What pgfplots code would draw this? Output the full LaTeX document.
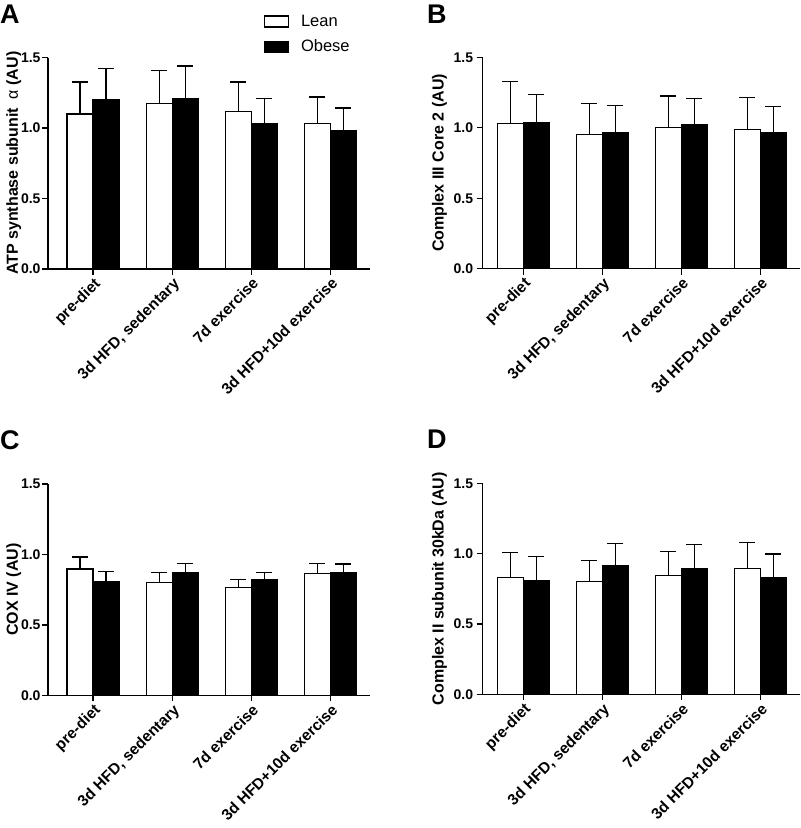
\documentclass[border=0pt]{standalone}
\usepackage{pgfplots}
\usepackage{pgfplotstable}
\pgfplotsset{compat=1.18}
\usepackage{fontspec}
\setmainfont{Liberation Sans}

\pgfplotstableread{
x L Le O Oe
0 1.100 0.226 1.203 0.220
1 1.175 0.231 1.206 0.234
2 1.118 0.208 1.033 0.175
3 1.033 0.187 0.980 0.162
}\dataA
\pgfplotstableread{
x L Le O Oe
0 1.031 0.295 1.038 0.199
1 0.953 0.220 0.962 0.194
2 1.003 0.222 1.019 0.187
3 0.989 0.224 0.962 0.187
}\dataB
\pgfplotstableread{
x L Le O Oe
0 0.897 0.085 0.804 0.074
1 0.800 0.071 0.868 0.066
2 0.767 0.054 0.819 0.052
3 0.864 0.073 0.868 0.064
}\dataC
\pgfplotstableread{
x L Le O Oe
0 0.832 0.175 0.810 0.169
1 0.801 0.149 0.912 0.161
2 0.846 0.168 0.893 0.173
3 0.893 0.188 0.832 0.166
}\dataD

\pgfplotsset{
  panel/.style={
    scale only axis, ybar=0pt, bar width=26pt,
    ymin=0, ymax=1.5, ytick={0,0.5,1,1.5},
    xmax=3.5,
    xtick={0,1,2,3},
    xticklabels={pre-diet,{3d HFD, sedentary},7d exercise,3d HFD+10d exercise},
    axis x line*=bottom, axis y line*=left,
    axis line style={line width=1.3pt, -},
    tick align=outside, major tick length=6pt,
    every tick/.style={line width=1.3pt, black},
    xticklabel style={rotate=45, anchor=north east, inner sep=1pt,
      font=\bfseries\fontsize{15.5}{15.5}\selectfont},
    yticklabel style={font=\bfseries\fontsize{14}{14}\selectfont,
      /pgf/number format/fixed, /pgf/number format/fixed zerofill,
      /pgf/number format/precision=1, /pgf/number format/assume math mode=true},
    ylabel style={font=\bfseries\fontsize{16}{16}\selectfont},
    error bars/y dir=plus, error bars/y explicit,
    error bars/error bar style={line width=1.3pt, black},
    error bars/error mark options={rotate=90, line width=1.3pt, mark size=8pt, black},
  },
  lean/.style={fill=white, draw=black, line width=1.3pt,
    legend image code/.code={\draw[fill=white, draw=black, line width=1.3pt] (0pt,-5.5pt) rectangle (24pt,5.5pt); \path (34pt,0pt);}},
  obese/.style={fill=black, draw=black, line width=1.3pt,
    legend image code/.code={\draw[fill=black, draw=black, line width=1.3pt] (0pt,-5.5pt) rectangle (24pt,5.5pt); \path (34pt,0pt);}},
}

\begin{document}
\begin{tikzpicture}
\path[use as bounding box] (0,0) rectangle (801pt,-828pt);

\begin{axis}[panel, at={(48pt,-269pt)}, anchor=south west,
  width=322pt, height=211.5pt, xmin=-0.57,
  ylabel={ATP synthase subunit \ \textmd{α} (AU)}, ylabel shift=-7pt,
  yticklabel style={/tikz/xshift=2pt},
  legend style={at={(0.66,1.22)}, anchor=north west, draw=none, fill=none,
    font=\fontsize{16.5}{16.5}\selectfont, row sep=8pt},
  legend cell align=left]
\addplot[lean] table[x=x, y=L, y error=Le] {\dataA};
\addplot[obese] table[x=x, y=O, y error=Oe] {\dataA};
\legend{Lean, Obese}
\end{axis}

\begin{axis}[panel, at={(482.7pt,-268.7pt)}, anchor=south west,
  width=317pt, height=211.4pt, xmin=-0.514,
  ylabel={Complex III Core 2 (AU)}]
\addplot[lean] table[x=x, y=L, y error=Le] {\dataB};
\addplot[obese] table[x=x, y=O, y error=Oe] {\dataB};
\end{axis}

\begin{axis}[panel, at={(48pt,-695.3pt)}, anchor=south west,
  width=322pt, height=211.3pt, xmin=-0.57,
  ylabel={COX IV (AU)}, ylabel shift=-7pt,
  yticklabel style={/tikz/xshift=2pt}]
\addplot[lean] table[x=x, y=L, y error=Le] {\dataC};
\addplot[obese] table[x=x, y=O, y error=Oe] {\dataC};
\end{axis}

\begin{axis}[panel, at={(482.7pt,-694.3pt)}, anchor=south west,
  width=317pt, height=211pt, xmin=-0.514,
  ylabel={Complex II subunit 30kDa (AU)}]
\addplot[lean] table[x=x, y=L, y error=Le] {\dataD};
\addplot[obese] table[x=x, y=O, y error=Oe] {\dataD};
\end{axis}

\node[anchor=north west, inner sep=0pt, font=\bfseries\fontsize{27}{27}\selectfont] at (0pt,-5pt) {A};
\node[anchor=north west, inner sep=0pt, font=\bfseries\fontsize{27}{27}\selectfont] at (427pt,-5pt) {B};
\node[anchor=north west, inner sep=0pt, font=\bfseries\fontsize{27}{27}\selectfont] at (0pt,-430pt) {C};
\node[anchor=north west, inner sep=0pt, font=\bfseries\fontsize{27}{27}\selectfont] at (427pt,-430pt) {D};
\end{tikzpicture}
\end{document}
